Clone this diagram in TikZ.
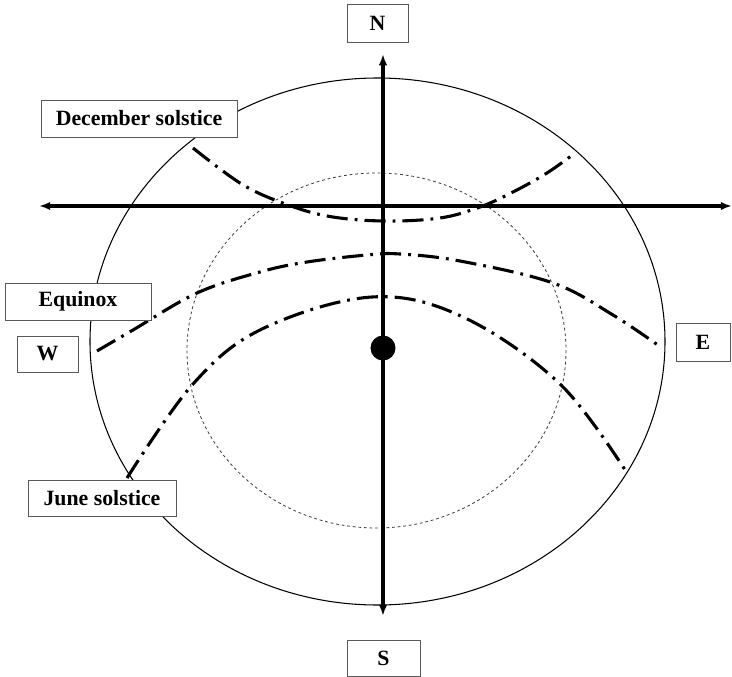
\documentclass[tikz,border=0pt]{standalone}
\usepackage{fontspec}
\setmainfont{Liberation Serif}
\usetikzlibrary{arrows.meta}
\tikzset{
  lbl/.style={draw=black!65, line width=0.6pt, fill=white, inner sep=0pt, outer sep=0pt,
    font=\fontsize{15.5}{18}\selectfont\bfseries},
  axis/.style={line width=2.4pt, {Latex[length=8pt,width=6pt]}-{Latex[length=8pt,width=6pt]}},
  path/.style={line width=2.2pt, dash pattern=on 15pt off 5pt on 2pt off 5pt, smooth, tension=0.6},
  horizon/.style={line width=0.75pt},
  inner/.style={line width=0.6pt, black!75, dash pattern=on 2pt off 2pt},
}
\begin{document}
\begin{tikzpicture}[x=0.025cm, y=-0.025cm]
\useasboundingbox (0,0) rectangle (732,677);
% horizon and inner circle
\draw[horizon] (377.5,341.5) ellipse [x radius=287.5, y radius=263.5];
\draw[inner] (376.5,350.5) ellipse [x radius=189.5, y radius=177.5];
% sun paths
\draw[path] plot coordinates {(193,148) (240,183) (280,202) (327,216) (383,221) (440,218) (480,207) (513,192) (547,173) (575,153)};
\draw[path] plot coordinates {(97,351) (133,330) (197,293) (260,272) (307,262) (367,255) (400,254) (460,261) (553,283) (613,315) (662,348)};
\draw[path] plot coordinates {(127,478) (193,384) (262,329) (372,297) (463,317) (560,384) (627,473)};
% axes
\coordinate (ntip) at (383,54);
\coordinate (stip) at (383,616);
\coordinate (wtip) at (39,206);
\coordinate (etip) at (732,206);
\draw[axis] (stip) -- (ntip);
\draw[axis] (wtip) -- (etip);
% observer
\node[circle, fill=black, inner sep=0pt, minimum size=0.625cm] (obs) at (383,348) {};
% labels
\node[lbl, minimum width=1.525cm, minimum height=0.95cm] (N) at (377.5,23) {N};
\node[lbl, minimum width=1.825cm, minimum height=0.9cm] (S) at (383.5,658) {S};
\node[lbl, minimum width=1.525cm, minimum height=0.9cm] (W) at (47.5,354) {W};
\node[lbl, minimum width=1.35cm, minimum height=0.95cm] (E) at (703,342) {E};
\node[lbl, minimum width=4.9cm, minimum height=0.925cm] (dec) at (139,118.5) {December solstice};
\node[lbl, minimum width=3.65cm, minimum height=0.925cm] (equ) at (78,301.5) {Equinox};
\node[lbl, minimum width=3.7cm, minimum height=0.9cm] (jun) at (102,498) {June solstice};
\end{tikzpicture}
\end{document}
